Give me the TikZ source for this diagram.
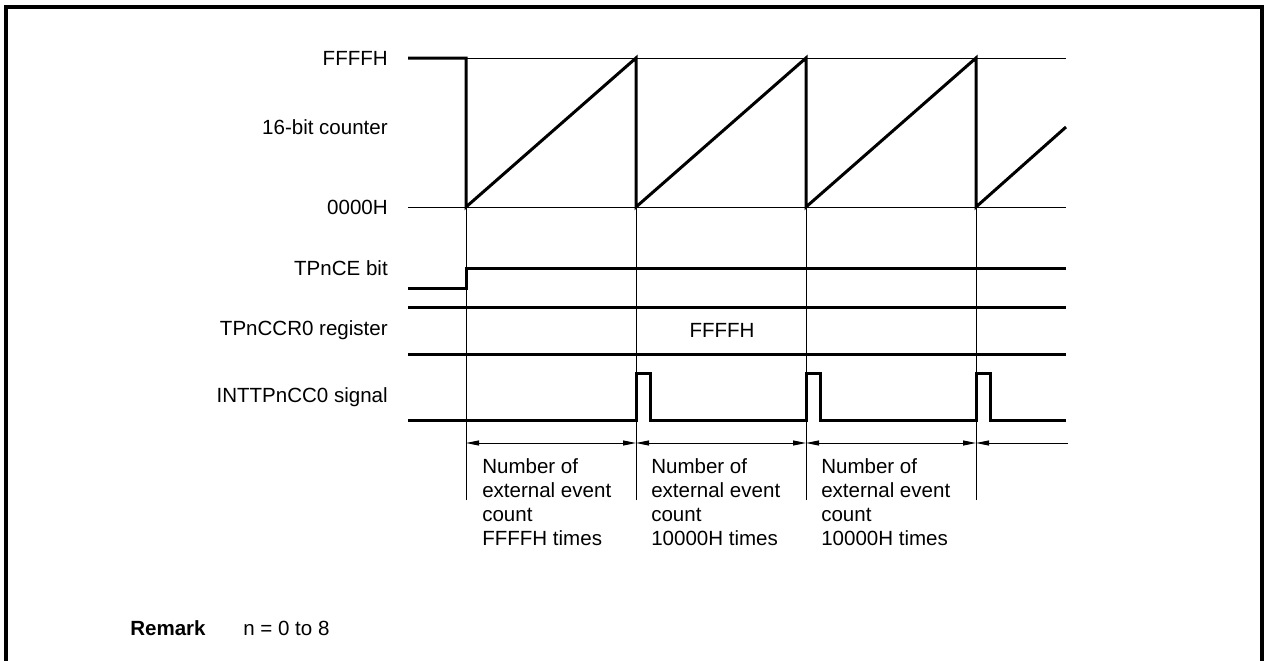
\documentclass[tikz,border=0pt]{standalone}
\usepackage{fontspec}
\setmainfont{Liberation Sans}
\usetikzlibrary{arrows.meta}
\begin{document}
\begin{tikzpicture}[x=0.75pt,y=-0.75pt,
  thick wave/.style={line width=2.25pt,line join=miter},
  thin line/.style={line width=0.75pt},
  lbl/.style={anchor=east,inner sep=0pt,font=\fontsize{15.4}{18}\selectfont},
  txt/.style={anchor=north west,inner sep=0pt,align=left,font=\fontsize{15.4}{18}\selectfont},
  dim/.style={line width=0.75pt}]
\useasboundingbox (0,0) rectangle (1265,661);
% frame
\draw[line width=3pt] (6,700) -- (6,7) -- (1262,7) -- (1262,700);
% labels
\node[lbl] (lF) at (388,58) {FFFFH};
\node[lbl] (lC) at (388,127) {16-bit counter};
\node[lbl] (l0) at (388,207) {0000H};
\node[lbl] (lCE) at (388,268) {TPnCE bit};
\node[lbl] (lR) at (388,330) {TPnCCR0 register};
\node[lbl] (lI) at (388,397) {INTTPnCC0 signal};
% thin guide lines
\draw[thin line] (466,58) -- (1066,58);
\draw[thin line] (408,207) -- (1066,207);
\foreach \x in {466,636,806,976}{
  \draw[thin line] (\x,58) -- (\x,500);
}
% counter
\draw[thick wave] (408,58) -- (466,58) -- (466,207) -- (636,58) -- (636,207) -- (806,58) -- (806,207) -- (976,58) -- (976,207) -- (1066,127);
% TPnCE
\draw[thick wave] (408,288) -- (466,288) -- (466,268) -- (1066,268);
% register
\draw[thick wave] (408,307) -- (1066,307);
\draw[thick wave] (408,354) -- (1066,354);
\node[inner sep=0pt,font=\fontsize{15.4}{18}\selectfont] (rv) at (722,330) {FFFFH};
% INTTPnCC0
\draw[thick wave] (408,420) -- (636,420) -- (636,373) -- (650,373) -- (650,420)
  -- (806,420) -- (806,373) -- (820,373) -- (820,420)
  -- (976,420) -- (976,373) -- (990,373) -- (990,420) -- (1066,420);
% dimension arrows
\draw[dim,{Triangle[length=9.75pt,width=3.75pt]}-{Triangle[length=9.75pt,width=3.75pt]}] (466,443) -- (636,443);
\draw[dim,{Triangle[length=9.75pt,width=3.75pt]}-{Triangle[length=9.75pt,width=3.75pt]}] (636,443) -- (806,443);
\draw[dim,{Triangle[length=9.75pt,width=3.75pt]}-{Triangle[length=9.75pt,width=3.75pt]}] (806,443) -- (976,443);
\draw[dim,{Triangle[length=9.75pt,width=3.75pt]}-] (976,443) -- (1068,443);
% texts
\node[txt] (n1) at (482,458) {Number of\\external event\\count\\FFFFH times};
\node[txt] (n2) at (651,458) {Number of\\external event\\count\\10000H times};
\node[txt] (n3) at (821,458) {Number of\\external event\\count\\10000H times};
% remark
\node[anchor=west,inner sep=0pt,font=\fontsize{15.4}{18}\selectfont\bfseries] (rem) at (130,628) {Remark};
\node[anchor=west,inner sep=0pt,font=\fontsize{15.4}{18}\selectfont] (remt) at (243,628) {n = 0 to 8};
\end{tikzpicture}
\end{document}
